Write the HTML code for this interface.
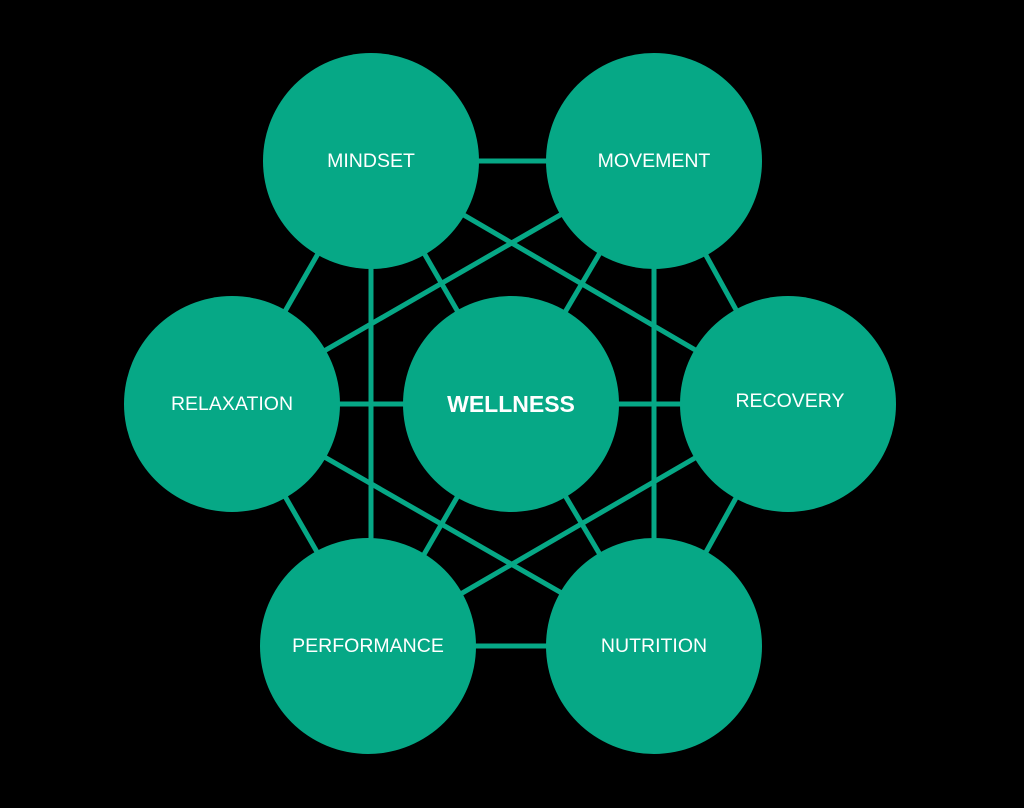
<!DOCTYPE html>
<html><head><style>
html,body{margin:0;padding:0;background:#000;}
svg{display:block;}
text{font-family:"Liberation Sans",sans-serif;fill:#fff;text-anchor:middle;dominant-baseline:central;}
</style></head><body>
<svg width="1024" height="808" viewBox="0 0 1024 808">
<rect width="1024" height="808" fill="#000"/>
<g stroke="#06a886" stroke-width="5">
<line x1="371" y1="161" x2="654" y2="161"/>
<line x1="371" y1="161" x2="232" y2="404"/>
<line x1="371" y1="161" x2="788" y2="404"/>
<line x1="371" y1="161" x2="371" y2="646"/>
<line x1="371" y1="161" x2="511" y2="404"/>
<line x1="654" y1="161" x2="232" y2="404"/>
<line x1="654" y1="161" x2="654" y2="646"/>
<line x1="654" y1="161" x2="511" y2="404"/>
<line x1="654" y1="161" x2="788" y2="404"/>
<line x1="232" y1="404" x2="788" y2="404"/>
<line x1="232" y1="404" x2="371" y2="646"/>
<line x1="232" y1="404" x2="654" y2="646"/>
<line x1="511" y1="404" x2="371" y2="646"/>
<line x1="511" y1="404" x2="654" y2="646"/>
<line x1="788" y1="404" x2="654" y2="646"/>
<line x1="788" y1="404" x2="371" y2="646"/>
<line x1="371" y1="646" x2="654" y2="646"/>
</g>
<g fill="#06a886">
<circle cx="371" cy="161" r="108"/>
<circle cx="654" cy="161" r="108"/>
<circle cx="232" cy="404" r="108"/>
<circle cx="511" cy="404" r="108"/>
<circle cx="788" cy="404" r="108"/>
<circle cx="368" cy="646" r="108"/>
<circle cx="654" cy="646" r="108"/>
</g>
<text x="371" y="161" font-size="19.5">MINDSET</text>
<text x="654" y="161" font-size="19.5">MOVEMENT</text>
<text x="232" y="404" font-size="19.5">RELAXATION</text>
<text x="511" y="404" font-size="23" font-weight="bold">WELLNESS</text>
<text x="790" y="401" font-size="19.5">RECOVERY</text>
<text x="368" y="646" font-size="19.5">PERFORMANCE</text>
<text x="654" y="646" font-size="19.5">NUTRITION</text>
</svg>
</body></html>
